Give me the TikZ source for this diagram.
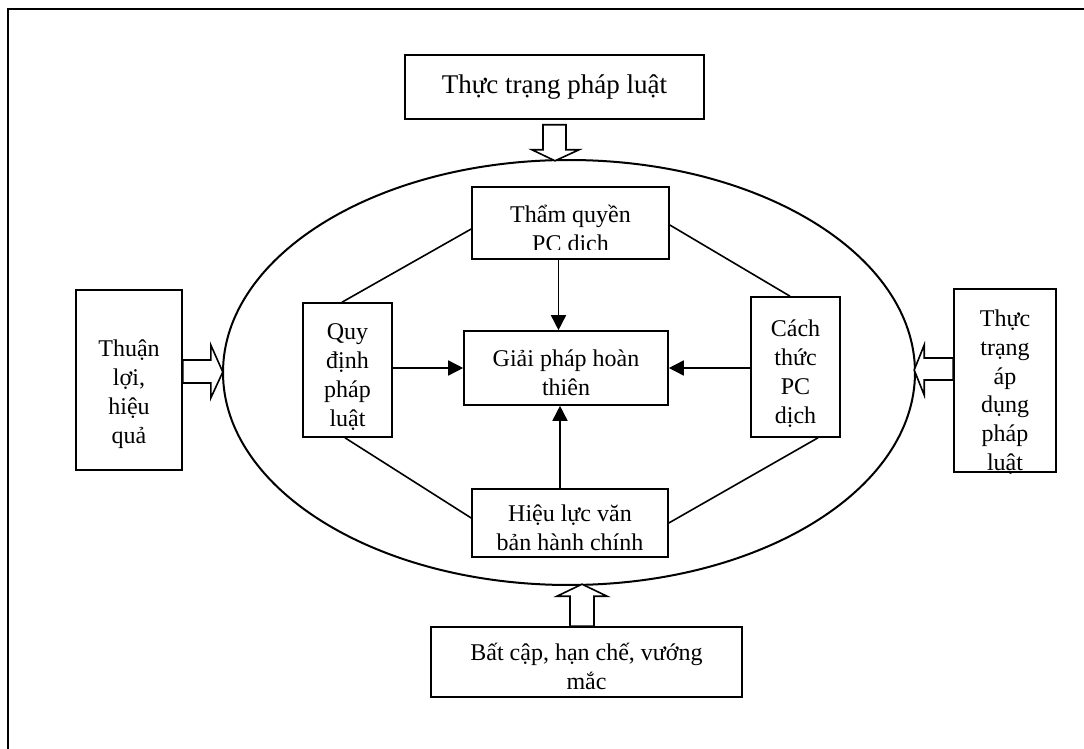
\documentclass[tikz,border=0pt]{standalone}
\usepackage{fontspec}
\setmainfont{Liberation Serif}
\usetikzlibrary{arrows.meta}
\usetikzlibrary{calc}

\begin{document}
\begin{tikzpicture}[x=0.5pt,y=-0.5pt,
        box/.style = {draw, line width=0.8pt, align=center, inner sep=2pt, font=\fontsize{12pt}{14.5pt}\selectfont},
        link/.style = {line width=0.8pt},
        arr/.style = {line width=0.8pt, -{Triangle[length=7.5pt,width=7.5pt]}},
        hollow/.style = {draw, line width=0.8pt, fill=white, line join=miter}]
        \useasboundingbox (0,0) rectangle (1084,749);
        \draw[line width=1.2pt] (8,749) -- (8,9) -- (1084,9);
        % outer boxes
        \node[box, minimum width=149.5pt, minimum height=32pt, font=\fontsize{13.5pt}{16pt}\selectfont] (tt) at (554.5,87) {Thực trạng pháp luật};
        \node[box, minimum width=53pt, minimum height=90pt] (tl) at (129,380) {\rule{0pt}{23pt}Thuận\\lợi,\\hiệu\\quả};
        \node[box, inner sep=0pt, minimum width=51pt, minimum height=91.5pt] (ad) at (1005,380.5) {\rule{0pt}{18pt}Thực\\trạng\\áp\\dụng\\pháp\\\raisebox{0pt}[\height][0pt]{luật}};
        \node[box, minimum width=155.5pt, minimum height=35pt] (bc) at (586.5,662) {\rule{0pt}{13pt}Bất cập, hạn chế, vướng\\mắc};
        % ellipse
        \draw[line width=1pt] (569,372.5) ellipse [x radius=173pt, y radius=106.25pt];
        % inner boxes
        \node[box, minimum width=98.5pt, minimum height=36pt, path picture={
            \clip ([yshift=4.5pt]path picture bounding box.south west) rectangle (path picture bounding box.north east);
            \node[draw=none, anchor=base, align=center, inner sep=0pt, font=\fontsize{12pt}{14.5pt}\selectfont]
                at ([yshift=3.5pt]path picture bounding box.south) {Thẩm quyền\\PC dịch};}] (tq) at (570.5,223) {};
        \node[box, minimum width=44.5pt, minimum height=67pt] (qd) at (347.5,370) {\rule{0pt}{15pt}Quy\\định\\pháp\\luật};
        \node[box, minimum width=44.5pt, minimum height=70pt] (ct) at (795.5,367) {\rule{0pt}{15pt}Cách\\thức\\PC\\dịch};
        \node[box, minimum width=102pt, minimum height=37pt] (gp) at (566,368) {\rule{0pt}{13pt}Giải pháp hoàn\\thiên};
        \node[box, minimum width=98pt, minimum height=34pt] (hl) at (570,523) {\rule{0pt}{13pt}Hiệu lực văn\\bản hành chính};
        % hollow arrows
        \draw[hollow] (tt.south) ++(-11.5,5) -- ++(23,0) -- ++(0,25) -- ++(13,0) -- ++(-24,11) -- ++(-23,-11) -- ++(11,0) -- cycle;
        \draw[hollow] (tl.east) ++(0,-20) -- ++(28,0) -- ++(0,-15) -- ++(12,27) -- ++(-12,26) -- ++(0,-15) -- ++(-28,0) -- cycle;
        \draw[hollow] (ad.west) ++(0,-22.5) -- ++(-29,0) -- ++(0,-13) -- ++(-10,25) -- ++(10,25) -- ++(0,-15) -- ++(29,0) -- cycle;
        \draw[hollow] (bc.north) ++(-16.5,0) -- ++(0,-30) -- ++(-13,0) -- ++(25,-12) -- ++(25,12) -- ++(-13,0) -- ++(0,30) -- cycle;
        % connectors
        \draw[link] ([yshift=-3pt]tq.west) -- ([xshift=-2.75pt]qd.north);
        \draw[link] ([yshift=-1pt]tq.east) -- ([xshift=-2.75pt]ct.north);
        \draw[link] ([xshift=-1.25pt]qd.south) -- ([yshift=2.5pt]hl.west);
        \draw[link] ([xshift=11.25pt]ct.south) -- (hl.east);
        \draw[arr] ([xshift=-6pt]tq.south) -- ([xshift=-6pt]tq.south |- gp.north);
        \draw[arr] ([xshift=-3pt]gp.south |- hl.north) -- ([xshift=-3pt]gp.south);
        \draw[arr] (qd.east |- gp) -- (gp.west);
        \draw[arr] (ct.west |- gp) -- (gp.east);
\end{tikzpicture}
\end{document}
